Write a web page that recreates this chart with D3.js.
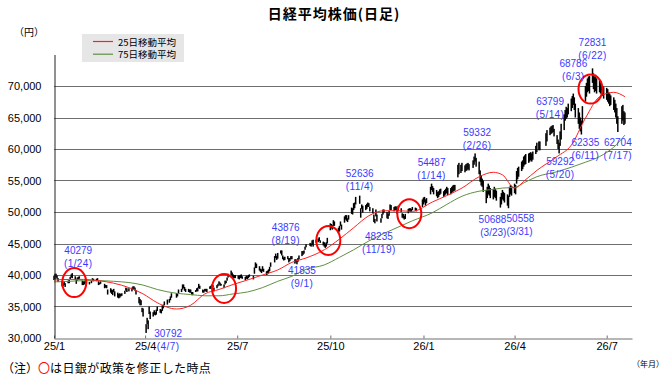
<!DOCTYPE html>
<html>
<head>
<meta charset="utf-8">
<title>日経平均株価(日足)</title>
<script src="https://d3js.org/d3.v7.min.js"></script>
<style>
  body { margin: 0; background: #fff; }
  svg text { font-family: "Liberation Sans", Arial, sans-serif; }
  .jp { font-family: "Noto Sans CJK JP", sans-serif; }
  .grid line { stroke: #6e6e6e; stroke-width: 1; }
  .peak { fill: #3a3aff; font-size: 10px; }
</style>
</head>
<body>
<svg id="chart" width="670" height="382"></svg>
<script>
// daily [low, high] of each trading day, in 100 yen
const jan25 = [[392,399],[393,402],[396,402],[394,399],[389,395],[382,389],[382,387],[384,389],[381,387],[387,391],[387,392],[393,397],[396,401],[395,403],[392,398],[386,392],[391,396],[393,397],[394,398]];
const feb25 = [[384,391],[384,390],[385,390],[387,392],[386,392],[385,389],[387,391],[391,395],[390,394],[390,394],[391,395],[384,390],[385,388],[386,390],[379,386],[380,384],[379,384],[369,377]];
const mar25 = [[372,379],[370,377],[368,376],[373,378],[366,374],[364,372],[363,370],[364,371],[366,370],[367,371],[370,375],[375,380],[373,379],[374,379],[374,380],[377,382],[378,382],[375,380],[369,376],[355,365]];
const apr25 = [[352,362],[352,360],[341,348],[334,347],[308,322],[322,332],[314,328],[338,350],[330,342],[334,341],[337,344],[336,341],[337,345],[343,350],[340,346],[339,345],[343,352],[347,353],[352,358],[353,361],[356,362]];
const may25 = [[360,366],[364,371],[364,371],[366,371],[370,377],[373,378],[377,385],[379,385],[375,381],[373,378],[373,378],[372,377],[372,377],[368,373],[368,373],[373,376],[374,379],[374,380],[379,386],[378,383]];
const jun25 = [[372,377],[372,376],[374,378],[374,378],[373,378],[378,382],[378,383],[381,385],[380,384],[374,380],[379,384],[382,386],[385,390],[383,388],[383,386],[379,385],[385,391],[387,391],[391,396],[396,402],[400,407]];
const jul25 = [[397,404],[395,401],[395,400],[395,400],[394,399],[393,399],[395,400],[395,401],[394,398],[392,397],[394,399],[393,398],[395,400],[397,401],[393,399],[402,412],[411,420],[411,418],[407,414],[405,410],[403,409],[406,414]];
const aug25 = [[405,410],[400,406],[401,407],[403,409],[406,413],[413,420],[420,430],[427,434],[424,430],[426,435],[434,439],[431,439],[425,431],[423,428],[424,429],[425,430],[420,427],[422,427],[425,430],[425,430]];
const sep25 = [[418,425],[420,425],[417,424],[421,427],[425,431],[430,438],[432,438],[434,439],[440,445],[444,449],[446,451],[445,450],[448,455],[445,456],[451,456],[452,458],[454,460],[451,455],[447,453],[445,452]];
const oct25 = [[443,450],[445,452],[450,459],[471,482],[474,481],[472,479],[478,487],[478,485],[466,475],[469,478],[478,485],[472,480],[483,493],[488,495],[486,495],[484,490],[488,495],[497,507],[496,506],[503,514],[506,515],[512,524]];
const nov25 = [[513,526],[491,506],[505,512],[499,510],[503,511],[505,513],[508,515],[508,514],[501,508],[498,506],[484,496],[482,489],[493,504],[485,496],[483,490],[490,497],[496,504],[499,504]];
const dec25 = [[490,500],[489,497],[494,502],[503,512],[503,511],[501,508],[503,509],[503,509],[497,504],[502,510],[500,506],[491,498],[490,497],[488,494],[489,497],[498,505],[501,506],[500,506],[500,505],[503,508],[502,507],[501,506]];
const jan26 = [[508,520],[512,523],[515,524],[510,520],[514,522],[528,540],[535,545],[532,541],[528,538],[525,535],[522,532],[524,533],[527,536],[529,537],[524,533],[526,535],[528,537],[530,540],[527,538]];
const feb26 = [[528,538],[530,540],[532,542],[533,543],[534,543],[555,575],[560,578],[562,575],[565,578],[563,574],[565,576],[566,577],[568,578],[566,576],[570,582],[575,588],[580,593],[572,586]];
const mar26 = [[560,580],[548,566],[542,558],[540,553],[532,550],[514,535],[522,540],[528,545],[526,542],[522,538],[520,536],[524,540],[522,537],[518,534],[507,524],[512,530],[520,535],[518,532],[515,530],[510,528],[506,526]];
const apr26 = [[524,540],[528,543],[526,541],[530,545],[528,543],[545,565],[552,570],[556,572],[565,580],[568,582],[572,588],[575,590],[576,592],[578,593],[580,594],[582,595],[580,593],[583,596],[592,605],[595,610],[598,612]];
const may26 = [[598,612],[605,625],[612,630],[622,634],[624,636],[625,637],[627,638],[620,632],[608,622],[600,615],[593,610],[605,628],[615,640],[630,655],[645,662],[648,667],[650,665],[655,672]];
const jun26 = [[660,680],[665,684],[670,688],[662,682],[650,672],[640,665],[632,658],[628,650],[623,645],[640,668],[675,700],[683,705],[690,712],[692,715],[688,716],[705,728],[695,720],[690,715],[692,718],[688,712],[690,710],[688,708]];
const jul26 = [[686,702],[684,700],[680,698],[678,697],[675,695],[672,690],[668,688],[670,685],[662,682],[658,678],[650,672],[640,665],[627,652],[640,668],[645,670],[638,660],[640,658]];

// market closed on these weekdays
const holidays = ["2025-01-01","2025-01-02","2025-01-03","2025-01-13","2025-02-11","2025-02-24","2025-03-20","2025-04-29","2025-05-05","2025-05-06","2025-07-21","2025-08-11","2025-09-15","2025-09-23","2025-10-13","2025-11-03","2025-11-24","2025-12-31","2026-01-01","2026-01-02","2026-01-12","2026-02-11","2026-02-23","2026-03-20","2026-04-29","2026-05-04","2026-05-05","2026-05-06","2026-07-20"];

// moving averages, in 100 yen
const maDates = ["2025-01-06","2025-01-21","2025-02-04","2025-02-19","2025-03-06","2025-03-21","2025-04-04","2025-04-18","2025-05-07","2025-05-21","2025-06-04","2025-06-18","2025-07-02","2025-07-16","2025-07-31","2025-08-15","2025-08-29","2025-09-12","2025-09-30","2025-10-15","2025-10-29","2025-11-13","2025-11-28","2025-12-12","2025-12-26","2026-01-15","2026-01-29","2026-02-13","2026-03-02","2026-03-16","2026-03-25","2026-04-06","2026-04-16","2026-04-28","2026-05-18","2026-06-01","2026-06-15","2026-06-29","2026-07-13","2026-07-24"];
const ma25 = [392,393,393,391,387,380,370,356,346,352,370,377,385,392,400,408,420,427,440,457,475,494,502,502,501,516,526,538,556,563,559,538,550,566,588,606,649,683,690,683];
const ma75 = [389,390,391,391,390,388,384,377,371,369,367,367,370,373,380,390,398,409,416,428,440,454,466,476,486,499,512,525,533,536,538,539,547,556,564,571,579,588,603,622];

// highs and lows written on the chart
const peakValues = [40279, 30792, 43876, 41835, 52636, 48235, 54487, 59332, 50688, 50558, 63799, 59292, 68786, 62335, 72831, 62704];
const peakDates = ["2025-01-24","2025-04-07","2025-08-19","2025-09-01","2025-11-04","2025-11-19","2026-01-14","2026-02-26","2026-03-23","2026-03-31","2026-05-14","2026-05-20","2026-06-03","2026-06-11","2026-06-22","2026-07-17"];
const peakLabels = ["1/24","4/7","8/19","9/1","11/4","11/19","1/14","2/26","3/23","3/31","5/14","5/20","6/3","6/11","6/22","7/17"];

// BOJ policy changes (red circles)
const bojDates = ["2025-01-26","2025-06-23","2025-10-04","2025-12-23","2026-06-20"];
const bojLevels = [38800, 37860, 45480, 49730, 69520];

const tickDates = ["2025-01-06","2025-04-06","2025-07-06","2025-10-06","2026-01-06","2026-04-06","2026-07-06"];
const tickLabels = ["25/1","25/4","25/7","25/10","26/1","26/4","26/7"];
const yTicks = [30000, 35000, 40000, 45000, 50000, 55000, 60000, 65000, 70000];

const parse = d3.timeParse("%Y-%m-%d");
const fmt = d3.timeFormat("%Y-%m-%d");

const months = [
  [2025, 0, jan25], [2025, 1, feb25], [2025, 2, mar25], [2025, 3, apr25],
  [2025, 4, may25], [2025, 5, jun25], [2025, 6, jul25], [2025, 7, aug25],
  [2025, 8, sep25], [2025, 9, oct25], [2025, 10, nov25], [2025, 11, dec25],
  [2026, 0, jan26], [2026, 1, feb26], [2026, 2, mar26], [2026, 3, apr26],
  [2026, 4, may26], [2026, 5, jun26], [2026, 6, jul26]
];

function tradingDays(y, m) {
  const days = [];
  for (let d = new Date(y, m, 1); d.getMonth() === m; d.setDate(d.getDate() + 1)) {
    const wd = d.getDay();
    if (wd === 0 || wd === 6) continue;
    if (holidays.includes(fmt(d))) continue;
    days.push(new Date(d));
  }
  return days;
}

const candles = [];
months.forEach(([y, m, arr]) => {
  const days = tradingDays(y, m);
  arr.forEach((r, i) => candles.push({ date: days[i], low: r[0] * 100, high: r[1] * 100 }));
});

const svg = d3.select("#chart");

const x = d3.scaleTime()
  .domain([parse("2025-01-06"), parse("2026-07-31")])
  .range([54, 632]);
const y = d3.scaleLinear()
  .domain([30000, 75000])
  .range([338, 54.5]);

// title
svg.append("text")
  .attr("class", "jp")
  .attr("x", 334).attr("y", 19)
  .attr("text-anchor", "middle")
  .style("font-size", "14px").style("font-weight", "bold")
  .style("letter-spacing", "1px")
  .text("日経平均株価(日足)");

svg.append("text")
  .attr("class", "jp")
  .attr("x", 14).attr("y", 36)
  .style("font-size", "10px")
  .text("（円）");

// gridlines
svg.append("g").attr("class", "grid")
  .selectAll("line")
  .data(yTicks.slice(1))
  .join("line")
  .attr("x1", 54).attr("x2", 632)
  .attr("y1", d => Math.round(y(d)) + 0.5)
  .attr("y2", d => Math.round(y(d)) + 0.5);

// candles
svg.append("g")
  .selectAll("rect")
  .data(candles)
  .join("rect")
  .attr("x", d => x(d.date) - 0.75)
  .attr("width", 1.5)
  .attr("y", d => y(d.high))
  .attr("height", d => Math.max(1, y(d.low) - y(d.high)))
  .attr("fill", "#000");

// moving averages
const maLine = vals => d3.line()
  .x((d, i) => x(parse(maDates[i])))
  .y(d => y(d * 100))
  .curve(d3.curveMonotoneX)(vals);

svg.append("path").attr("d", maLine(ma75))
  .attr("fill", "none").attr("stroke", "#5f9040").attr("stroke-width", 1);
svg.append("path").attr("d", maLine(ma25))
  .attr("fill", "none").attr("stroke", "#ff2020").attr("stroke-width", 1);

// BOJ circles
svg.append("g")
  .selectAll("ellipse")
  .data(bojDates)
  .join("ellipse")
  .attr("cx", d => x(parse(d)))
  .attr("cy", (d, i) => y(bojLevels[i]))
  .attr("rx", 12).attr("ry", 14.5)
  .attr("fill", "none").attr("stroke", "#ff0000").attr("stroke-width", 2);

// high / low labels: offset from their point, and text anchor
const labelShift = [[6,-19],[22,4],[4,-20],[7,11],[0,-18],[4,17],[0,-18],[2,-17],[6,15],[-2,14],[-3,-20],[1,11.5],[0,-26.5],[4,12],[0,-22],[0,14]];
const labelAnchor = ["middle","middle","middle","middle","middle","middle","middle","middle","end","start","middle","middle","middle","middle","middle","middle"];
const peaks = svg.append("g").selectAll("g")
  .data(peakValues)
  .join("g")
  .attr("transform", (d, i) =>
    `translate(${x(parse(peakDates[i])) + labelShift[i][0]},${y(d) + labelShift[i][1]})`);
peaks.append("text").attr("class", "peak")
  .attr("text-anchor", (d, i) => labelAnchor[i])
  .text(d => d);
peaks.append("text").attr("class", "peak")
  .attr("text-anchor", (d, i) => labelAnchor[i])
  .attr("y", 13)
  .style("letter-spacing", (d, i) => labelAnchor[i] === "middle" ? "0.4px" : "0px")
  .text((d, i) => "(" + peakLabels[i] + ")");

// axes
const xAxis = d3.axisBottom(x)
  .tickValues(tickDates.map(parse))
  .tickFormat((d, i) => tickLabels[i])
  .tickSizeInner(-3).tickSizeOuter(0).tickPadding(4);
const gx = svg.append("g").attr("transform", "translate(0,338.5)").call(xAxis);
gx.select(".domain").attr("stroke", "#6e6e6e");
gx.selectAll(".tick line").attr("stroke", "#6e6e6e");
gx.selectAll("text").style("font-size", "11px").attr("fill", "#000")
  .style("font-family", "'Liberation Sans', Arial, sans-serif");
gx.lower();

const yAxis = d3.axisLeft(y)
  .tickValues(yTicks)
  .tickFormat(d3.format(","))
  .tickSize(0).tickPadding(13);
const gy = svg.append("g").attr("transform", "translate(54.5,0)").call(yAxis);
gy.select(".domain").attr("stroke", "#222");
gy.selectAll("text").style("font-size", "11px").attr("fill", "#000")
  .style("font-family", "'Liberation Sans', Arial, sans-serif");

// legend
const lg = svg.append("g");
lg.append("rect").attr("x", 82).attr("y", 34).attr("width", 102).attr("height", 28).attr("fill", "#e6e6e6");
[["25日移動平均", "#ff2020"], ["75日移動平均", "#5f9040"]].forEach(([t, c], i) => {
  lg.append("line").attr("x1", 93).attr("x2", 113)
    .attr("y1", 41.5 + i * 12.7).attr("y2", 41.5 + i * 12.7)
    .attr("stroke", c).attr("stroke-width", 1.2);
  lg.append("text").attr("class", "jp")
    .attr("x", 118).attr("y", 45.5 + i * 12.7)
    .style("font-size", "9.5px")
    .text(t);
});

svg.append("text")
  .attr("class", "jp")
  .attr("x", 632).attr("y", 367)
  .style("font-size", "8px")
  .text("（年月）");

const note = svg.append("text")
  .attr("class", "jp")
  .attr("x", 2).attr("y", 373)
  .style("font-size", "12px");
note.append("tspan").text("（注）");
note.append("tspan").attr("fill", "#ff0000").text("〇");
note.append("tspan").style("letter-spacing", "0.4px").text("は日銀が政策を修正した時点");
</script>
</body>
</html>
